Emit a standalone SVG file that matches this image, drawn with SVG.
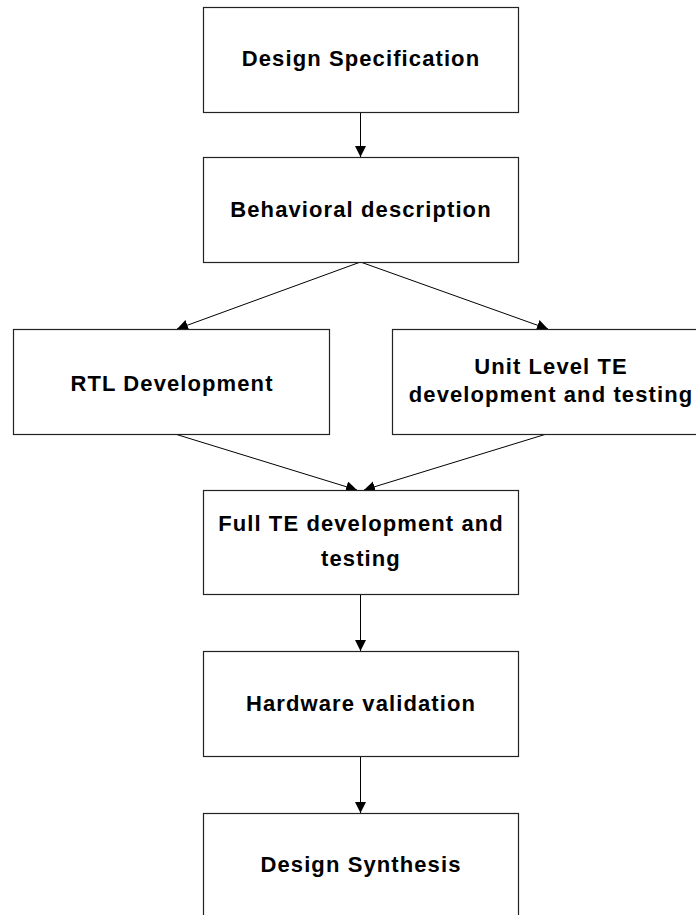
<svg xmlns="http://www.w3.org/2000/svg" width="696" height="915" viewBox="0 0 696 915">
  <style>
    .box { fill: #ffffff; stroke: #222222; stroke-width: 1.2; }
    .lbl { font-family: "Liberation Sans", Arial, sans-serif; font-size: 22px; font-weight: bold; fill: #000000; text-anchor: middle; letter-spacing: 1.1px; }
    .conn { stroke: #000000; stroke-width: 1; fill: none; marker-end: url(#arrow); }
  </style>
  <defs>
    <marker id="arrow" markerUnits="userSpaceOnUse" markerWidth="12" markerHeight="12" refX="11" refY="5.5" orient="auto">
      <path d="M0,0 L11,5.5 L0,11 Z" fill="#000000"/>
    </marker>
  </defs>
  <rect width="696" height="915" fill="#ffffff"/>

  <!-- connectors -->
  <g id="connectors">
    <line class="conn" x1="360.5" y1="112" x2="360.5" y2="157"/>
    <line class="conn" x1="360.5" y1="262" x2="177" y2="329"/>
    <line class="conn" x1="360.5" y1="262" x2="548" y2="329"/>
    <line class="conn" x1="175" y1="434" x2="357" y2="490"/>
    <line class="conn" x1="546.5" y1="434" x2="364" y2="490"/>
    <line class="conn" x1="360.5" y1="594" x2="360.5" y2="651"/>
    <line class="conn" x1="360.5" y1="756" x2="360.5" y2="813"/>
  </g>

  <g id="design-spec">
    <rect class="box" x="203.5" y="7.5" width="315" height="105"/>
    <text class="lbl" x="361" y="66">Design Specification</text>
  </g>

  <g id="behavioral">
    <rect class="box" x="203.5" y="157.5" width="315" height="105"/>
    <text class="lbl" x="361" y="217">Behavioral description</text>
  </g>

  <g id="rtl">
    <rect class="box" x="13.5" y="329.5" width="316" height="105"/>
    <text class="lbl" x="172" y="391">RTL Development</text>
  </g>

  <g id="unit-te">
    <rect class="box" x="392.5" y="329.5" width="316" height="105"/>
    <text class="lbl" x="551" y="374">Unit Level TE</text>
    <text class="lbl" x="551" y="402">development and testing</text>
  </g>

  <g id="full-te">
    <rect class="box" x="203.5" y="490.5" width="315" height="104"/>
    <text class="lbl" x="361" y="531">Full TE development and</text>
    <text class="lbl" x="361" y="566">testing</text>
  </g>

  <g id="hw-validation">
    <rect class="box" x="203.5" y="651.5" width="315" height="105"/>
    <text class="lbl" x="361" y="711">Hardware validation</text>
  </g>

  <g id="synthesis">
    <rect class="box" x="203.5" y="813.5" width="315" height="105"/>
    <text class="lbl" x="361" y="872">Design Synthesis</text>
  </g>
</svg>
